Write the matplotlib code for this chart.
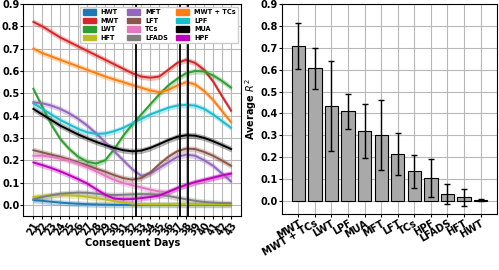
import matplotlib
matplotlib.use("Agg")
import matplotlib.pyplot as plt
from matplotlib.patches import Patch
import numpy as np

days = list(range(21, 44))

series_names = ["HWT", "MWT", "LWT", "HFT", "MFT", "LFT", "TCs", "LFADS",
                "MWT + TCs", "LPF", "MUA", "HPF"]
series_colors = ["#1f77b4", "#d62728", "#2ca02c", "#bcbd22", "#9467bd", "#8c564b",
                 "#e377c2", "#7f7f7f", "#ff7f0e", "#17becf", "black", "#c000c0"]

HWT = [0.022, 0.018, 0.014, 0.010, 0.007, 0.005, 0.003, 0.002, 0.001, 0.0, 0.0, 0.0,
       0.0, 0.0, 0.0, 0.0, 0.0, 0.0, 0.0, 0.0, 0.0, 0.0, 0.0]
MWT = [0.82, 0.80, 0.775, 0.75, 0.73, 0.71, 0.69, 0.67, 0.65, 0.63, 0.61, 0.59,
       0.575, 0.57, 0.575, 0.605, 0.636, 0.65, 0.636, 0.605, 0.553, 0.486, 0.422]
LWT = [0.52, 0.44, 0.36, 0.295, 0.25, 0.215, 0.193, 0.185, 0.20, 0.25, 0.31, 0.36,
       0.405, 0.45, 0.495, 0.535, 0.565, 0.59, 0.60, 0.598, 0.58, 0.555, 0.525]
HFT = [0.035, 0.040, 0.043, 0.044, 0.043, 0.040, 0.036, 0.030, 0.024, 0.017, 0.010,
       0.005, 0.003, 0.002, 0.002, 0.002, 0.002, 0.002, 0.002, 0.002, 0.002, 0.002, 0.002]
MFT = [0.46, 0.455, 0.445, 0.43, 0.41, 0.385, 0.355, 0.32, 0.28, 0.24, 0.20, 0.16,
       0.13, 0.14, 0.165, 0.19, 0.215, 0.225, 0.22, 0.20, 0.175, 0.14, 0.105]
LFT = [0.245, 0.235, 0.225, 0.215, 0.203, 0.19, 0.177, 0.162, 0.148, 0.133, 0.12, 0.113,
       0.12, 0.145, 0.182, 0.215, 0.24, 0.252, 0.25, 0.237, 0.22, 0.198, 0.175]
TCs = [0.22, 0.22, 0.215, 0.208, 0.198, 0.185, 0.168, 0.15, 0.13, 0.112, 0.098, 0.088,
       0.078, 0.068, 0.06, 0.058, 0.073, 0.088, 0.10, 0.11, 0.12, 0.13, 0.138]
LFADS = [0.025, 0.035, 0.043, 0.05, 0.053, 0.055, 0.054, 0.05, 0.046, 0.044, 0.045, 0.047,
         0.048, 0.048, 0.045, 0.04, 0.032, 0.025, 0.018, 0.013, 0.010, 0.008, 0.007]
MWT_TCs = [0.70, 0.68, 0.665, 0.65, 0.635, 0.62, 0.605, 0.59, 0.575, 0.562, 0.55, 0.537,
           0.525, 0.513, 0.505, 0.515, 0.535, 0.55, 0.54, 0.51, 0.47, 0.42, 0.37]
LPF = [0.455, 0.43, 0.405, 0.38, 0.36, 0.34, 0.325, 0.318, 0.32, 0.33, 0.345, 0.365,
       0.385, 0.405, 0.42, 0.435, 0.445, 0.448, 0.445, 0.43, 0.405, 0.375, 0.345]
MUA = [0.43, 0.405, 0.38, 0.355, 0.335, 0.315, 0.298, 0.282, 0.268, 0.255, 0.245, 0.24,
       0.243, 0.255, 0.272, 0.29, 0.305, 0.312, 0.31, 0.30, 0.285, 0.268, 0.25]
HPF = [0.19, 0.178, 0.165, 0.15, 0.133, 0.115, 0.095, 0.07, 0.045, 0.028, 0.025, 0.026,
       0.03, 0.035, 0.042, 0.058, 0.075, 0.09, 0.102, 0.112, 0.122, 0.132, 0.14]
band_halfwidth = 0.013

marker_days = [32.4, 37.3, 38.25]

bar_labels = ["MWT", "MWT + TCs", "LWT", "LPF", "MUA", "MFT", "LFT", "TCs", "HPF",
              "LFADS", "HFT", "HWT"]
bar_means = [0.71, 0.607, 0.433, 0.41, 0.318, 0.302, 0.215, 0.135, 0.105, 0.032, 0.017, 0.005]
bar_errs = [0.105, 0.093, 0.205, 0.08, 0.123, 0.16, 0.097, 0.077, 0.085, 0.045, 0.038, 0.004]

all_series = [HWT, MWT, LWT, HFT, MFT, LFT, TCs, LFADS, MWT_TCs, LPF, MUA, HPF]

fig = plt.figure(figsize=(4.99, 2.70), dpi=100)
ax1 = fig.add_axes([0.047, 0.200, 0.436, 0.785])
ax2 = fig.add_axes([0.565, 0.207, 0.431, 0.778])

tick_fs = 7
grid_col = "#b8b8b8"
# Left panel
x = np.array(days)
for name, col, vals in zip(series_names, series_colors, all_series):
    v = np.array(vals)
    ax1.fill_between(x, v - band_halfwidth, v + band_halfwidth, color=col, alpha=0.3, lw=0)
    ax1.plot(x, v, color=col, lw=1.4)
for d in marker_days:
    ax1.axvline(d, color="black", lw=1.3)
ax1.set_xticks(days)
ax1.set_xticklabels([str(d) for d in days], rotation=60, fontsize=tick_fs, fontweight="bold")
ax1.set_ylim(-0.05, 0.9)
ax1.set_yticks(np.arange(0, 0.91, 0.1))
ax1.set_yticklabels([f"{t:.1f}" for t in np.arange(0, 0.91, 0.1)], fontsize=tick_fs, fontweight="bold")
ax1.grid(True, color=grid_col, lw=0.8)
ax1.set_axisbelow(True)
ax1.set_xlabel("Consequent Days", fontsize=7, fontweight="bold", labelpad=1)
ax1.set_ylabel("$R^2$", fontsize=7, fontweight="bold", labelpad=0)
ax1.tick_params(length=2, pad=1)
handles = [Patch(facecolor=c, edgecolor=c) for c in series_colors]
ax1.legend(handles, series_names, ncol=3, loc="upper right",
           prop={"weight": "bold", "size": 4.7}, framealpha=1, edgecolor="#cccccc",
           handlelength=2.0, handleheight=0.9, columnspacing=1.2, labelspacing=0.38,
           borderaxespad=0.4, fancybox=False)

# Right panel
xb = np.arange(len(bar_labels))
ax2.bar(xb, bar_means, width=0.8, color="#a9a9a9", edgecolor="black", lw=0.8,
        yerr=bar_errs, capsize=2.5, error_kw={"elinewidth": 1.0, "capthick": 1.0})
ax2.set_xticks(xb)
ax2.set_xticklabels(bar_labels, rotation=30, ha="right", rotation_mode="anchor",
                    fontsize=tick_fs, fontweight="bold")
ax2.set_ylim(-0.06, 0.9)
ax2.set_yticks(np.arange(0, 0.91, 0.1))
ax2.set_yticklabels([f"{t:.1f}" for t in np.arange(0, 0.91, 0.1)], fontsize=tick_fs, fontweight="bold")
ax2.grid(True, color=grid_col, lw=0.8)
ax2.set_axisbelow(True)
ax2.set_ylabel("Average $R^2$", fontsize=7, fontweight="bold", labelpad=1)
ax2.tick_params(length=2, pad=1)

fig.savefig("out.png", dpi=100)
